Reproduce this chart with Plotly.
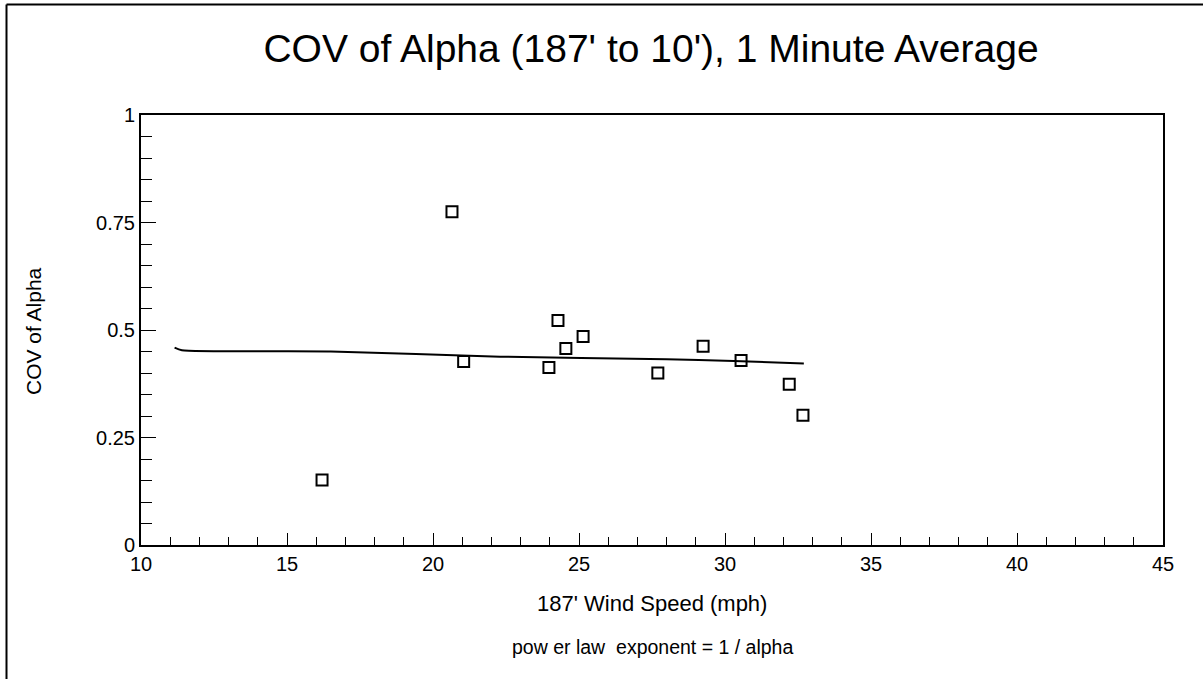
import plotly.graph_objects as go

# Data
wind_speed = [16.2, 20.65, 21.05, 23.97, 24.28, 24.55, 25.14, 27.7, 29.25, 30.55, 32.2, 32.67]
cov_alpha = [0.151, 0.775, 0.427, 0.413, 0.522, 0.457, 0.485, 0.40, 0.462, 0.429, 0.374, 0.302]

fit_x = [11.15, 11.4, 16.5, 22.3, 28.0, 30.3, 32.7]
fit_y = [0.459, 0.453, 0.450, 0.438, 0.432, 0.428, 0.422]

x_ticks = [10, 15, 20, 25, 30, 35, 40, 45]
y_ticks = [0, 0.25, 0.5, 0.75, 1]
y_tick_text = ["0", "0.25", "0.5", "0.75", "1"]

title_text = "COV of Alpha (187' to 10'), 1 Minute Average"
x_title = "187' Wind Speed (mph)"
y_title = "COV of Alpha"
note_text = "pow er law  exponent = 1 / alpha"

FONT = "Liberation Sans, Arial, sans-serif"
L, R, T, B = 141, 1163, 115, 545
PW, PH = R - L, B - T

fig = go.Figure()
fig.add_trace(go.Scatter(x=fit_x, y=fit_y, mode="lines",
                         line=dict(color="black", width=2, shape="spline", smoothing=0.6),
                         showlegend=False, hoverinfo="skip"))
fig.add_trace(go.Scatter(x=wind_speed, y=cov_alpha, mode="markers",
                         marker=dict(symbol="square-open", size=11, color="black",
                                     line=dict(color="black", width=2)),
                         showlegend=False))

fig.update_layout(
    width=1203, height=679,
    margin=dict(l=L, r=1203 - R, t=T, b=679 - B, pad=0),
    paper_bgcolor="white", plot_bgcolor="white",
    font=dict(family=FONT, color="black", size=20),
    title=dict(text=title_text, x=651 / 1203, xanchor="center",
               y=1 - 48 / 679, yanchor="middle",
               font=dict(family=FONT, size=39, color="black")),
    showlegend=False,
)

fig.update_xaxes(
    range=[10, 45], tickvals=x_ticks, ticktext=[str(v) for v in x_ticks],
    showgrid=False, zeroline=False,
    showline=True, linecolor="black", linewidth=2, mirror=True,
    ticks="inside", ticklen=12, tickwidth=1, tickcolor="black",
    minor=dict(dtick=1, tick0=10, ticks="inside", ticklen=8, tickwidth=1, tickcolor="black", showgrid=False),
    tickfont=dict(size=20),
)
fig.update_yaxes(
    range=[0, 1], tickvals=y_ticks, ticktext=y_tick_text,
    showgrid=False, zeroline=False,
    showline=True, linecolor="black", linewidth=2, mirror=True,
    ticks="inside", ticklen=15, tickwidth=1, tickcolor="black",
    minor=dict(dtick=0.05, tick0=0, ticks="inside", ticklen=11, tickwidth=1, tickcolor="black", showgrid=False),
    tickfont=dict(size=20),
)

# axis titles and note
fig.add_annotation(text=x_title, xref="paper", yref="paper",
                   x=0.5, y=-(603 - B) / PH, xanchor="center", yanchor="middle",
                   showarrow=False, font=dict(family=FONT, size=22, color="black"))
fig.add_annotation(text=y_title, xref="paper", yref="paper", textangle=-90,
                   x=-(L - 33) / PW, y=(B - 331) / PH, xanchor="center", yanchor="middle",
                   showarrow=False, font=dict(family=FONT, size=21, color="black"))
fig.add_annotation(text=note_text, xref="paper", yref="paper",
                   x=0.5, y=-(647 - B) / PH, xanchor="center", yanchor="middle",
                   showarrow=False, font=dict(family=FONT, size=19.5, color="black"))

# outer frame (top and left edges visible)
fx = -(L - 6.5) / PW
fy = 1 + (T - 4.5) / PH
fig.add_shape(type="line", xref="paper", yref="paper",
              x0=fx, x1=1.2, y0=fy, y1=fy, line=dict(color="black", width=2))
fig.add_shape(type="line", xref="paper", yref="paper",
              x0=fx, x1=fx, y0=-1, y1=fy, line=dict(color="black", width=2))

fig.write_html("out.html")
